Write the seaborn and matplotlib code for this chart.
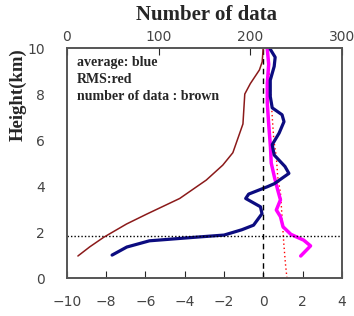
import matplotlib
matplotlib.use("Agg")
import matplotlib.pyplot as plt
import pandas as pd
import seaborn as sns

sns.set_style("white")

# average (blue), bottom axis
avg_x = [-7.7, -6.95, -5.8, -3.55, -2.0, -1.1, -0.5, -0.07, -0.15, -0.9, -0.75, 0.2, 0.55,
         1.3, 1.1, 0.55, 0.45, 0.8, 1.05, 0.95, 0.45, 0.35, 0.35, 0.55, 0.6, 0.35]
avg_h = [1.0, 1.35, 1.62, 1.77, 1.87, 2.1, 2.3, 2.8, 3.1, 3.46, 3.65, 3.97, 4.1,
         4.55, 4.85, 5.35, 5.8, 6.3, 6.8, 7.1, 7.4, 7.9, 8.6, 9.2, 9.6, 9.95]

# RMS (magenta), bottom axis
rms_x = [1.9, 2.4, 2.05, 1.4, 1.0, 0.87, 0.66, 0.87, 0.73, 0.56, 0.4, 0.36, 0.27, 0.2, 0.2, 0.27, 0.2]
rms_h = [0.96, 1.4, 1.65, 1.9, 2.23, 2.67, 2.96, 3.4, 3.83, 4.4, 5.0, 5.7, 6.7, 7.6, 8.45, 9.3, 9.95]

# red dotted, bottom axis
red_x = [1.2, 1.12, 1.04, 0.95, 0.87, 0.73, 0.66, 0.53, 0.36, 0.27, 0.2]
red_h = [0.0, 0.65, 1.5, 2.67, 3.7, 4.4, 5.27, 6.0, 8.2, 9.3, 9.95]

# number of data (brown), top axis
num_n = [12, 25, 40, 65, 87, 123, 152, 170, 181, 192, 194, 200, 210, 213, 214]
num_h = [0.96, 1.36, 1.77, 2.35, 2.78, 3.46, 4.26, 4.91, 5.45, 6.7, 8.0, 8.45, 9.05, 9.4, 9.95]

x_ticks = [-10, -8, -6, -4, -2, 0, 2, 4]
top_ticks = [0, 100, 200, 300]
y_ticks = [0, 2, 4, 6, 8, 10]
h_line = 1.83

fig = plt.figure(figsize=(3.54, 3.16), dpi=100)
ax = fig.add_axes([0.189, 0.12, 0.777, 0.728])

sns.lineplot(x=red_x, y=red_h, ax=ax, sort=False, estimator=None, color="red",
             linestyle=(0, (1, 2)), linewidth=1.0)
sns.lineplot(x=rms_x, y=rms_h, ax=ax, sort=False, estimator=None, color="#ff00ff", linewidth=2.5)
sns.lineplot(x=avg_x, y=avg_h, ax=ax, sort=False, estimator=None, color="#0c0c80", linewidth=2.3)
ax.axvline(0, color="black", linestyle=(0, (4, 3)), linewidth=1.0)
ax.axhline(h_line, color="black", linestyle=(0, (1, 1.5)), linewidth=1.0)

ax.set_xlim(-10, 4)
ax.set_ylim(0, 10)
ax.set_xticks(x_ticks)
ax.set_yticks(y_ticks)
ax.set_xticklabels([str(t).replace("-", "\u2212") for t in x_ticks])
ax.tick_params(axis="x", direction="in", length=5, pad=12, labelsize=10, labelcolor="#444444")
ax.tick_params(axis="y", direction="out", length=4, pad=12, labelsize=10, labelcolor="#444444")
ax.set_xlabel("")
ax.set_ylabel("")

ax2 = ax.twiny()
sns.lineplot(x=num_n, y=num_h, ax=ax2, sort=False, estimator=None, color="#8b1a1a", linewidth=1.1)
ax2.set_xlim(0, 300)
ax2.set_xticks(top_ticks)
ax2.tick_params(axis="x", direction="in", length=5, pad=3, labelsize=10, labelcolor="#444444")
ax2.set_xlabel("")

for a in (ax, ax2):
    for s in a.spines.values():
        s.set_color("#555555")
        s.set_linewidth(1.2)

fig.text(0.582, 0.951, "Number of data", ha="center", va="center",
         family="Liberation Serif", fontweight="bold", fontsize=15)
fig.text(0.05, 0.70, "Height(km)", ha="center", va="center", rotation=90,
         family="Liberation Serif", fontweight="bold", fontsize=13.5)

notes = ["average: blue", "RMS:red", "number of data : brown"]
for i, t in enumerate(notes):
    ax.text(0.035, 0.939 - i * 0.074, t, transform=ax.transAxes, ha="left", va="center",
            family="Liberation Serif", fontweight="bold", fontsize=10)

fig.savefig("out.png", dpi=100)
